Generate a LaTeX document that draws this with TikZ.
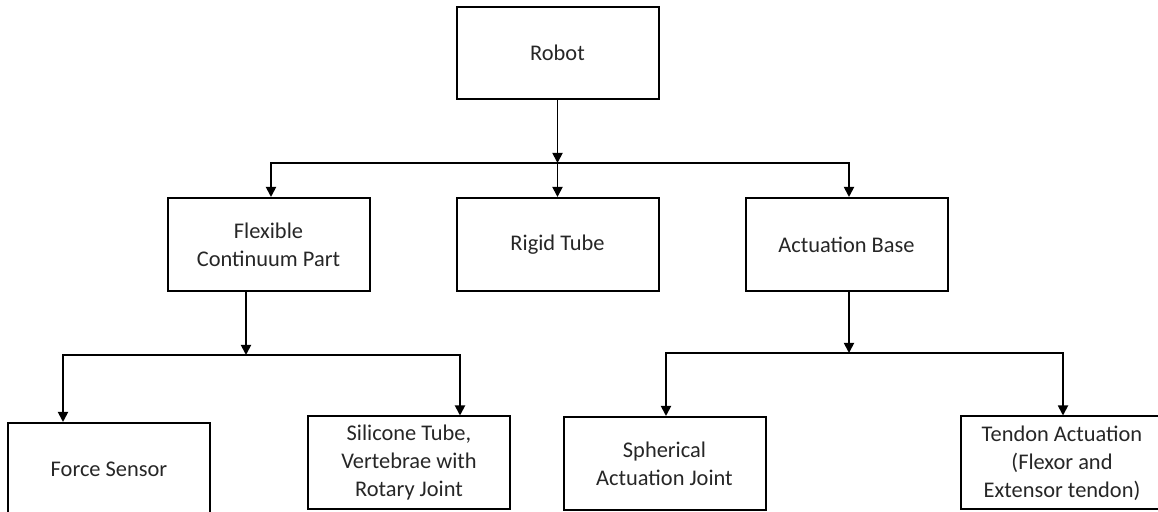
\documentclass[tikz,border=0pt]{standalone}
\usepackage{fontspec}
\setmainfont{Carlito}
\usetikzlibrary{
	positioning
	, arrows.meta
	, calc
}

\begin{document}
\begin{tikzpicture}[
		x=0.5pt, y=-0.5pt
		, block/.style={draw, rectangle, line width=1pt, minimum width=101pt, minimum height=46.5pt, inner sep=1pt, align=center, font=\fontsize{11.2}{14}\selectfont, text=black!85}
		, baseline/.style={line width=0.9pt}
		, basearrow/.style={baseline, -{Triangle[width=5pt,length=5pt]}}]

		%%% Frame
		\useasboundingbox (0,0) rectangle (1158,512);
		\clip (0,0) rectangle (1158,512);

		%%% Components
		%% Top level
		\node[block, minimum height=46pt] (robot) at (557.5,53) {Robot};

		%% Second level
		\node[block] (flexible) at (268.5,244.5) {Flexible\\Continuum Part};
		\node[block] (rigid) at (557.5,244.5) {Rigid Tube};
		\node[block] (actuation) at (846.5,244.5) {Actuation Base};

		%% Third level
		\node[block] (force) at (109,469.5) {Force Sensor};
		\node[block] (silicone) at (409,463) {Silicone Tube,\\Vertebrae with\\Rotary Joint};
		\node[block] (spherical) at (664.5,463.5) {Spherical\\Actuation Joint};
		\node[block] (tendon) at (1062,463) {Tendon Actuation\\(Flexor and\\Extensor tendon)};

		%%% Branch points
		\coordinate (topbus) at (557.5,163);
		\coordinate (leftbus) at (246,355);
		\coordinate (rightbus) at (849,353);

		%%% Connections
		%% Robot
		\draw[basearrow] (robot) -- (topbus);
		\draw[basearrow] (topbus) -| ([xshift=1.25pt]flexible.north);
		\draw[basearrow] (topbus) -- (rigid);
		\draw[basearrow] (topbus) -| ([xshift=1.25pt]actuation.north);

		%% Flexible Continuum Part
		\draw[basearrow] ([xshift=-11.25pt]flexible.south) -- (leftbus);
		\draw[basearrow] (leftbus) -| ([xshift=-23pt]force.north);
		\draw[basearrow] (leftbus) -| ([xshift=25.5pt]silicone.north);

		%% Actuation Base
		\draw[basearrow] ([xshift=1.25pt]actuation.south) -- (rightbus);
		\draw[basearrow] (rightbus) -| ([xshift=0.75pt]spherical.north);
		\draw[basearrow] (rightbus) -| ([xshift=0.5pt]tendon.north);
	\end{tikzpicture}
\end{document}
